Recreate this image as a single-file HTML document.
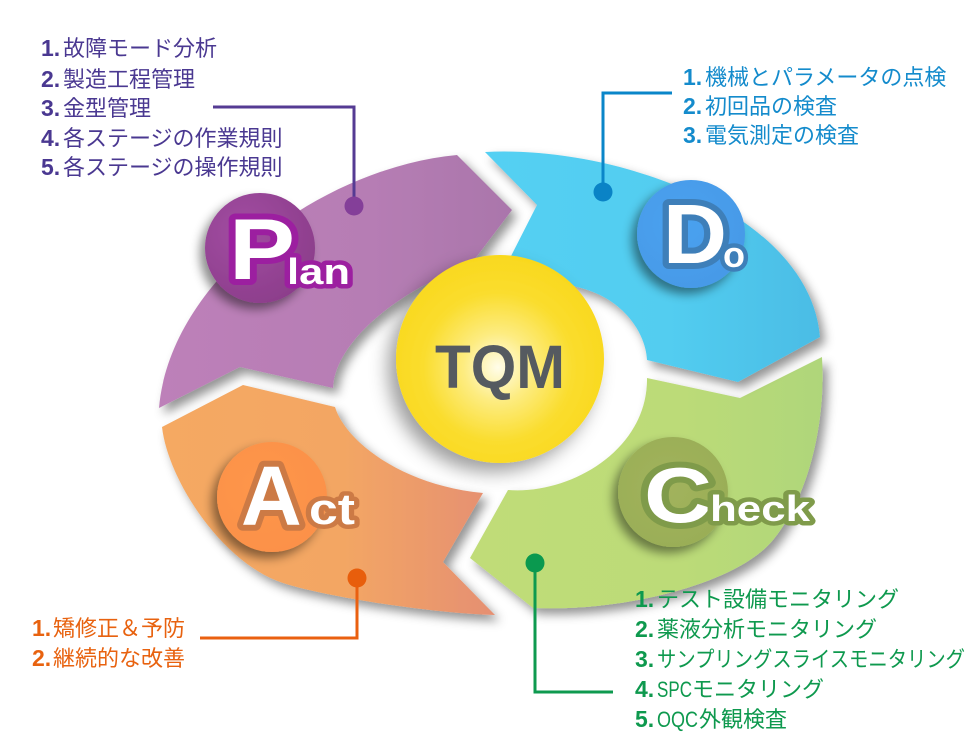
<!DOCTYPE html>
<html>
<head>
<meta charset="utf-8">
<style>
  html, body { margin:0; padding:0; background:#ffffff; }
  body { width:974px; height:739px; overflow:hidden; }
  svg { display:block; }
  .jp { font-family: "Liberation Sans", "Noto Sans CJK JP", sans-serif; font-size:22px; }
  .num { font-family: "Liberation Sans", sans-serif; font-weight:bold; font-size:23px; }
  .big { font-family: "Liberation Sans", sans-serif; font-weight:bold; fill:#ffffff; paint-order: stroke fill; stroke-linejoin: round; }
</style>
</head>
<body>
<svg width="974" height="739" viewBox="0 0 974 739" xmlns="http://www.w3.org/2000/svg">
  <defs>
    <filter id="sh" x="-20%" y="-20%" width="150%" height="150%">
      <feDropShadow dx="5" dy="6" stdDeviation="5" flood-color="#000" flood-opacity="0.42"/>
    </filter>
    <filter id="bsh" x="-40%" y="-40%" width="180%" height="180%">
      <feDropShadow dx="-5" dy="6" stdDeviation="5" flood-color="#000" flood-opacity="0.45"/>
    </filter>
    <filter id="tsh" x="-40%" y="-40%" width="180%" height="180%">
      <feDropShadow dx="-8" dy="9" stdDeviation="9" flood-color="#000" flood-opacity="0.38"/>
    </filter>
    <linearGradient id="gPlan" gradientUnits="userSpaceOnUse" x1="159" y1="0" x2="512" y2="0">
      <stop offset="0" stop-color="#bd80b9"/>
      <stop offset="0.6" stop-color="#b67db4"/>
      <stop offset="1" stop-color="#aa76ab"/>
    </linearGradient>
    <linearGradient id="gDo" gradientUnits="userSpaceOnUse" x1="485" y1="0" x2="822" y2="0">
      <stop offset="0" stop-color="#54d0f3"/>
      <stop offset="0.55" stop-color="#52cdf0"/>
      <stop offset="1" stop-color="#4bbce5"/>
    </linearGradient>
    <linearGradient id="gCheck" gradientUnits="userSpaceOnUse" x1="470" y1="0" x2="822" y2="0">
      <stop offset="0" stop-color="#c0dc78"/>
      <stop offset="0.6" stop-color="#bcdb78"/>
      <stop offset="1" stop-color="#afd67a"/>
    </linearGradient>
    <linearGradient id="gAct" gradientUnits="userSpaceOnUse" x1="162" y1="0" x2="495" y2="0">
      <stop offset="0" stop-color="#f5a962"/>
      <stop offset="0.55" stop-color="#f3a664"/>
      <stop offset="1" stop-color="#e58f72"/>
    </linearGradient>
    <radialGradient id="gTQM" cx="0.49" cy="0.54" r="0.55" fx="0.49" fy="0.54">
      <stop offset="0" stop-color="#fffdea"/>
      <stop offset="0.3" stop-color="#fdec80"/>
      <stop offset="0.65" stop-color="#fadd2e"/>
      <stop offset="1" stop-color="#f9d81d"/>
    </radialGradient>
    <radialGradient id="gP" cx="0.35" cy="0.35" r="0.75">
      <stop offset="0" stop-color="#a24ca2"/>
      <stop offset="1" stop-color="#8b3d8a"/>
    </radialGradient>
    <radialGradient id="gD" cx="0.4" cy="0.4" r="0.75">
      <stop offset="0" stop-color="#4aa2f0"/>
      <stop offset="1" stop-color="#4698e6"/>
    </radialGradient>
    <radialGradient id="gA" cx="0.4" cy="0.4" r="0.75">
      <stop offset="0" stop-color="#fe964b"/>
      <stop offset="1" stop-color="#fb9048"/>
    </radialGradient>
    <radialGradient id="gC" cx="0.45" cy="0.45" r="0.7">
      <stop offset="0" stop-color="#a2b35c"/>
      <stop offset="1" stop-color="#98ad56"/>
    </radialGradient>
  </defs>

  <!-- Ring segments -->
  <path filter="url(#sh)" fill="url(#gCheck)" d="M822,357 C826,420 810,495 773,540 C736,585 620,612 533,608 L470,558 L508,490 C570,495 648,450 647,378 L740,398 Z"/>
  <path filter="url(#sh)" fill="url(#gAct)" d="M162,427 L243,385 L335,407 C345,440 400,485 483,493 L443,562 L495,615 C440,614 330,598 283,583 C222,563 168,480 162,427 Z"/>
  <path filter="url(#sh)" fill="url(#gPlan)" d="M159,408 C170,280 320,168 457,155 L512,210 L468,268 C430,275 336,330 333,388 L240,367 Z"/>
  <path filter="url(#sh)" fill="url(#gDo)" d="M485,152 C620,145 810,215 820,337 L738,382 L647,360 C646,335 625,298 577,287 L508,262 L537,205 Z"/>

  <!-- TQM center -->
  <circle cx="500" cy="359" r="104" fill="url(#gTQM)" filter="url(#tsh)"/>
  <text x="500" y="388" text-anchor="middle" font-family="Liberation Sans, sans-serif" font-weight="bold" font-size="61" fill="#555a60" textLength="130" lengthAdjust="spacingAndGlyphs">TQM</text>

  <!-- Badges -->
  <circle cx="260" cy="248" r="55" fill="url(#gP)" filter="url(#bsh)"/>
  <circle cx="691" cy="234" r="54" fill="url(#gD)" filter="url(#bsh)"/>
  <circle cx="272" cy="497" r="55" fill="url(#gA)" filter="url(#bsh)"/>
  <circle cx="673" cy="492" r="55" fill="url(#gC)" filter="url(#bsh)"/>

  <!-- Badge letters -->
  <text class="big" x="229" y="279" font-size="86" stroke="#9c1fa0" stroke-width="12" textLength="66" lengthAdjust="spacingAndGlyphs">P</text>
  <text class="big" x="287" y="284" font-size="36" stroke="#9c1fa0" stroke-width="9" textLength="63" lengthAdjust="spacingAndGlyphs">lan</text>

  <text class="big" x="663" y="263" font-size="84" stroke="#3e7fb9" stroke-width="12" textLength="64" lengthAdjust="spacingAndGlyphs">D</text>
  <text class="big" x="723" y="267" font-size="36" stroke="#3e7fb9" stroke-width="9">o</text>

  <text class="big" x="241" y="525" font-size="84" stroke="#cc7a45" stroke-width="12">A</text>
  <text class="big" x="309" y="524" font-size="44" stroke="#cc7a45" stroke-width="9" textLength="46" lengthAdjust="spacingAndGlyphs">ct</text>

  <text class="big" x="644" y="522" font-size="78" stroke="#7f9b4a" stroke-width="12" textLength="68" lengthAdjust="spacingAndGlyphs">C</text>
  <text class="big" x="710" y="521" font-size="36" stroke="#7f9b4a" stroke-width="9" textLength="100" lengthAdjust="spacingAndGlyphs">heck</text>

  <!-- Callout lines -->
  <polyline points="213,107 354,107 354,206" fill="none" stroke="#553b93" stroke-width="3"/>
  <circle cx="354" cy="206" r="9.5" fill="#843f99"/>

  <polyline points="672,93 603,93 603,192" fill="none" stroke="#0a86c9" stroke-width="3"/>
  <circle cx="603" cy="192" r="9.5" fill="#0a83c6"/>

  <polyline points="535,563 535,692 613,692" fill="none" stroke="#0e9a4f" stroke-width="3"/>
  <circle cx="535" cy="563" r="9.5" fill="#0a994f"/>

  <polyline points="357,578 357,638 200,638" fill="none" stroke="#ea6010" stroke-width="3"/>
  <circle cx="357" cy="578" r="9.5" fill="#e85e0c"/>

  <!-- Plan text -->
  <g fill="#4a3891">
    <text y="56"><tspan class="num" x="41">1.</tspan><tspan class="jp" x="63">故障モード分析</tspan></text>
    <text y="87"><tspan class="num" x="41">2.</tspan><tspan class="jp" x="63">製造工程管理</tspan></text>
    <text y="116"><tspan class="num" x="41">3.</tspan><tspan class="jp" x="63">金型管理</tspan></text>
    <text y="146"><tspan class="num" x="41">4.</tspan><tspan class="jp" x="63">各ステージの作業規則</tspan></text>
    <text y="175"><tspan class="num" x="41">5.</tspan><tspan class="jp" x="63">各ステージの操作規則</tspan></text>
  </g>

  <!-- Do text -->
  <g fill="#148bcc">
    <text y="85"><tspan class="num" x="683">1.</tspan><tspan class="jp" x="705">機械とパラメータの点検</tspan></text>
    <text y="114"><tspan class="num" x="683">2.</tspan><tspan class="jp" x="705">初回品の検査</tspan></text>
    <text y="143"><tspan class="num" x="683">3.</tspan><tspan class="jp" x="705">電気測定の検査</tspan></text>
  </g>

  <!-- Check text -->
  <g fill="#0e994e">
    <text y="607"><tspan class="num" x="635">1.</tspan><tspan class="jp" x="657">テスト設備モニタリング</tspan></text>
    <text y="637"><tspan class="num" x="635">2.</tspan><tspan class="jp" x="657">薬液分析モニタリング</tspan></text>
    <text class="num" x="635" y="667">3.</text>
    <text class="jp" x="657" y="667" textLength="308" lengthAdjust="spacingAndGlyphs">サンプリングスライスモニタリング</text>
    <text class="num" x="635" y="697">4.</text>
    <text class="jp" x="657" y="697" textLength="35" lengthAdjust="spacingAndGlyphs">SPC</text>
    <text class="jp" x="692" y="697">モニタリング</text>
    <text class="num" x="635" y="727">5.</text>
    <text class="jp" x="657" y="727" textLength="41" lengthAdjust="spacingAndGlyphs">OQC</text>
    <text class="jp" x="699" y="727">外観検査</text>
  </g>

  <!-- Act text -->
  <g fill="#e8620f">
    <text y="636"><tspan class="num" x="32">1.</tspan><tspan class="jp" x="53">矯修正＆予防</tspan></text>
    <text y="666"><tspan class="num" x="32">2.</tspan><tspan class="jp" x="53">継続的な改善</tspan></text>
  </g>
</svg>
</body>
</html>
